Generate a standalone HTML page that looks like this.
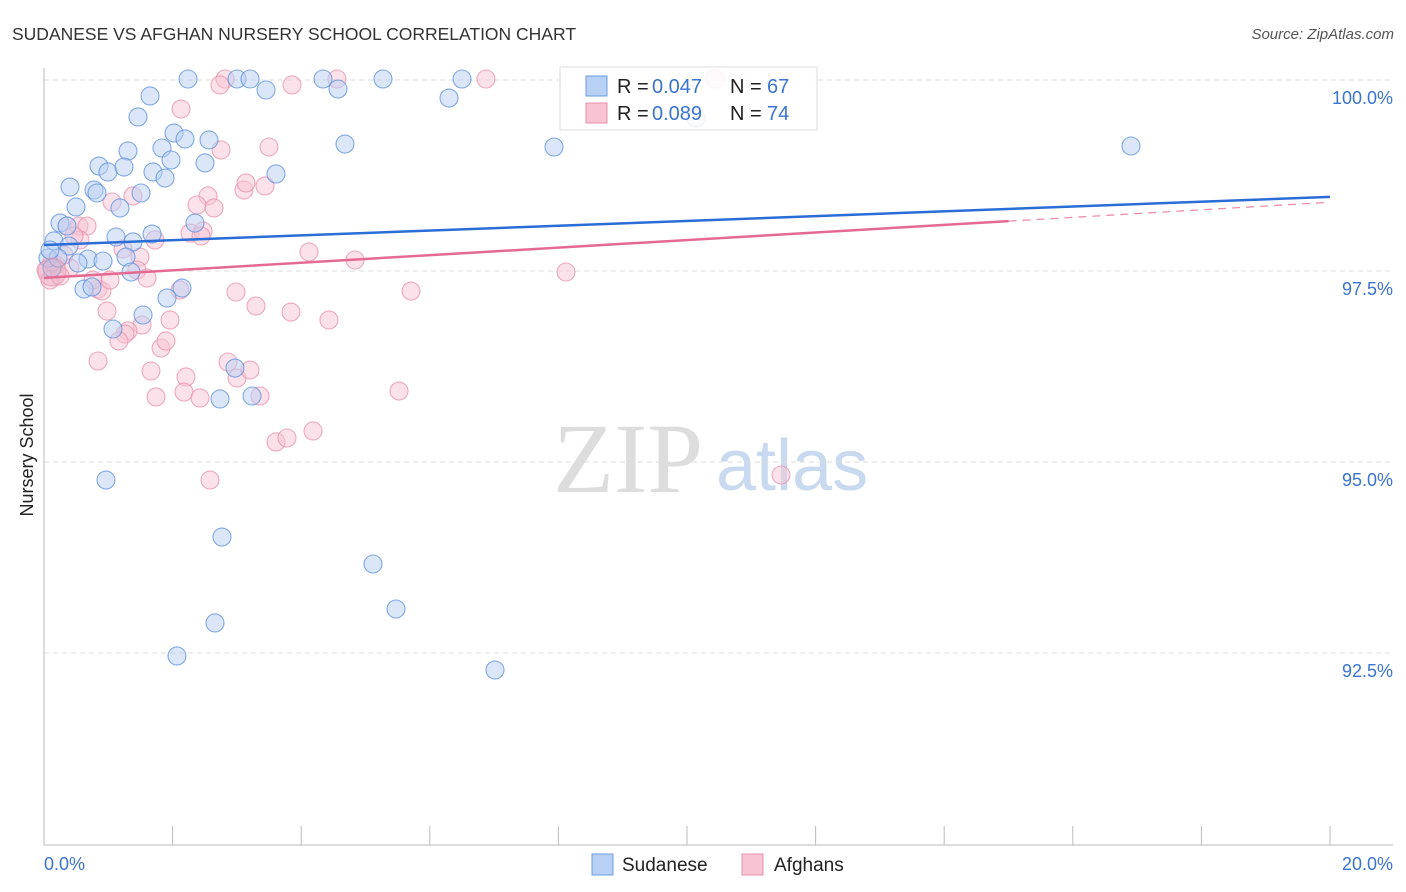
<!DOCTYPE html>
<html><head><meta charset="utf-8"><style>
body{margin:0;background:#fff;font-family:"Liberation Sans",sans-serif;}
svg{display:block}
</style></head><body>
<svg id="chart" width="1406" height="892" xmlns="http://www.w3.org/2000/svg">
<text x="12" y="40" font-size="17.5" fill="#333">SUDANESE VS AFGHAN NURSERY SCHOOL CORRELATION CHART</text>
<text x="1394" y="39" font-size="15" fill="#555" font-style="italic" text-anchor="end">Source: ZipAtlas.com</text>
<g>
<text x="553" y="492" font-size="100" font-family="Liberation Serif,serif" fill="#ddd">ZIP</text>
<text x="716" y="490" font-size="72" fill="#c9d9ef">atlas</text>
</g>
<g id="grid"></g>
<g id="axes"></g>
<g id="marks"></g>
<g id="trends"></g>
<text x="-455" y="33" transform="rotate(-90)" font-size="18" fill="#222" text-anchor="middle">Nursery School</text>
<g>
<rect x="560" y="67" width="257" height="63" fill="#fff" fill-opacity="0.85" stroke="#ddd"/>
<rect x="586" y="76" width="21" height="20" fill="#b7d0f3" stroke="#6a9be0"/>
<rect x="586" y="103" width="21" height="20" fill="#f8c4d3" stroke="#e890ab"/>
<text x="617" y="93" font-size="20" fill="#222">R =</text>
<text x="652" y="93" font-size="20" fill="#3a74d0">0.047</text>
<text x="730" y="93" font-size="20" fill="#222">N =</text>
<text x="767" y="93" font-size="20" fill="#3a74d0">67</text>
<text x="617" y="120" font-size="20" fill="#222">R =</text>
<text x="652" y="120" font-size="20" fill="#3a74d0">0.089</text>
<text x="730" y="120" font-size="20" fill="#222">N =</text>
<text x="767" y="120" font-size="20" fill="#3a74d0">74</text>
</g>
<g>
<rect x="592" y="854" width="21" height="21" fill="#b7d0f3" stroke="#6a9be0"/>
<text x="622" y="871" font-size="19" fill="#222">Sudanese</text>
<rect x="742" y="854" width="21" height="21" fill="#f8c4d3" stroke="#e890ab"/>
<text x="774" y="871" font-size="19" fill="#222">Afghans</text>
</g>
</svg>
<script>
const xTicks=[0,2,4,6,8,10,12,14,16,18,20];
const yTicks=[100,97.5,95,92.5];
const yTickLabels=["100.0%","97.5%","95.0%","92.5%"];
const xEndLabels=["0.0%","20.0%"];
const sudanesePx=[[188,79],[237,79],[250,79],[323,79],[383,79],[462,79],[150,96],[266,90],[338,89],[449,98],[138,117],[174,133],[185,139],[209,140],[162,148],[128,151],[171,160],[205,163],[99,166],[108,172],[124,167],[153,172],[165,178],[276,174],[70,187],[94,190],[97,193],[141,193],[76,207],[120,208],[60,223],[67,226],[195,223],[152,234],[116,237],[54,241],[69,246],[133,242],[88,259],[103,261],[126,257],[48,258],[78,263],[131,272],[84,289],[92,287],[182,288],[167,298],[143,315],[113,329],[235,368],[220,399],[252,396],[106,480],[222,537],[373,564],[396,609],[215,623],[177,656],[495,670],[345,144],[554,147],[1131,146],[52,268],[58,258],[696,118],[50,250]];
const afghanPx=[[225,79],[220,85],[292,85],[337,79],[486,79],[715,79],[181,109],[269,147],[221,150],[244,190],[246,183],[265,186],[208,196],[197,205],[214,208],[112,202],[133,196],[67,226],[79,226],[87,226],[190,233],[203,231],[201,236],[155,240],[80,240],[123,249],[309,252],[140,257],[355,260],[566,272],[46,270],[56,265],[70,268],[137,270],[147,278],[98,289],[102,291],[236,292],[411,291],[256,306],[291,312],[329,320],[107,311],[170,320],[142,325],[128,331],[125,334],[119,341],[161,348],[166,341],[98,361],[228,362],[151,371],[237,378],[186,377],[184,392],[200,398],[156,397],[260,396],[399,391],[276,442],[287,438],[313,431],[210,480],[781,475],[50,280],[60,276],[110,280],[52,262],[64,255],[74,236],[93,280],[180,290],[250,370]];
const sudX=sudanesePx.map(p=>+((p[0]-44)/64.3).toFixed(3));
const sudY=sudanesePx.map(p=>+(100-(p[1]-80)/76.4).toFixed(3));
const afgX=afghanPx.map(p=>+((p[0]-44)/64.3).toFixed(3));
const afgY=afghanPx.map(p=>+(100-(p[1]-80)/76.4).toFixed(3));
const sudTrend=[97.84,98.47];
const afgTrend=[97.41,98.40];
const afgSolidEnd=15;

const X=v=>44+v*64.3, Y=v=>80+(100-v)*76.4;
const NS="http://www.w3.org/2000/svg";
function mk(tag,attrs,parent){const e=document.createElementNS(NS,tag);for(const k in attrs)e.setAttribute(k,attrs[k]);parent.appendChild(e);return e;}
const grid=document.getElementById('grid'),axes=document.getElementById('axes'),marks=document.getElementById('marks'),trends=document.getElementById('trends');
yTicks.forEach((t,i)=>{
 const l=mk('line',{x1:44,x2:1393,y1:Y(t),y2:Y(t),stroke:'#ddd','stroke-dasharray':'5,4'},grid);
 
 
 const tx=mk('text',{x:1393,y:Y(t)+24,'font-size':18,fill:'#3a74d0','text-anchor':'end'},axes);
 tx.textContent=yTickLabels[i];
 
 
});
mk('line',{x1:44,x2:44,y1:68,y2:845,stroke:'#bbb'},axes);
mk('line',{x1:44,x2:1393,y1:845,y2:845,stroke:'#bbb'},axes);
xTicks.forEach(t=>{
 const l=mk('line',{x1:X(t),x2:X(t),y1:826,y2:845,stroke:'#bbb'},axes);
 
 
});
const xl0=mk('text',{x:44,y:870,'font-size':18,fill:'#3a74d0'},axes);xl0.textContent=xEndLabels[0];


const xl1=mk('text',{x:1393,y:870,'font-size':18,fill:'#3a74d0','text-anchor':'end'},axes);xl1.textContent=xEndLabels[1];


function dots(xs,ys,fill,stroke,name){xs.forEach((x,i)=>{
 const c=mk('circle',{cx:X(x),cy:Y(ys[i]),r:9,fill:fill,'fill-opacity':0.5,stroke:stroke,'stroke-opacity':0.75,'stroke-width':1.1},marks);
 
 
});}
dots(afgX,afgY,'#f8c4d3','#e890ab','afghan-point');
dots(sudX,sudY,'#b7d0f3','#5b8fdc','sudanese-point');
const big=mk('circle',{cx:52,cy:272,r:14,fill:'#e8a8c0','fill-opacity':0.45,stroke:'#e890ab','stroke-opacity':0.7},marks);


const b1=mk('line',{x1:X(0),y1:Y(sudTrend[0]),x2:X(20),y2:Y(sudTrend[1]),stroke:'#2a6dd6','stroke-width':2.5},trends);


const ys=afgTrend[0]+(afgTrend[1]-afgTrend[0])*afgSolidEnd/20;
const p1=mk('line',{x1:X(0),y1:Y(afgTrend[0]),x2:X(afgSolidEnd),y2:Y(ys),stroke:'#e46a93','stroke-width':2.5},trends);


const p2=mk('line',{x1:X(afgSolidEnd),y1:Y(ys),x2:X(20),y2:Y(afgTrend[1]),stroke:'#e890ab','stroke-width':1.3,'stroke-dasharray':'8,6'},trends);


</script>
</body></html>
